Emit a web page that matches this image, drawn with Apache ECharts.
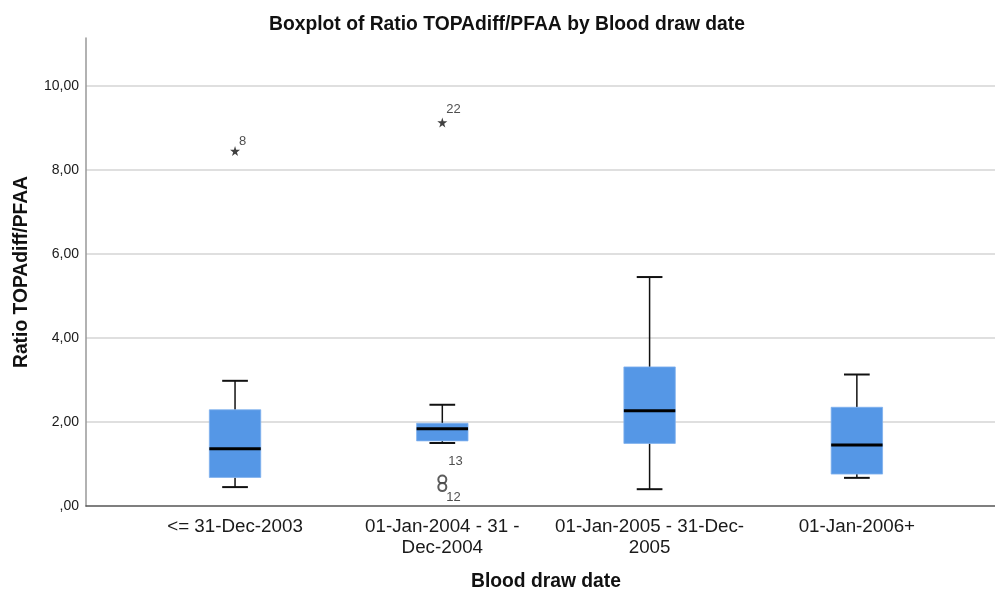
<!DOCTYPE html>
<html>
<head>
<meta charset="utf-8">
<script src="https://cdn.jsdelivr.net/npm/echarts@6/dist/echarts.min.js"></script>
<style>html,body{margin:0;padding:0;background:#fff;}#chart{width:995px;height:595px;}</style>
</head>
<body>
<div id="chart"></div>
<script>
const categories = ['<= 31-Dec-2003', '01-Jan-2004 - 31 -\nDec-2004', '01-Jan-2005 - 31-Dec-\n2005', '01-Jan-2006+'];
const lowerWhisker = [0.45, 1.50, 0.40, 0.67];
const q1 = [0.68, 1.55, 1.49, 0.76];
const median = [1.36, 1.84, 2.27, 1.45];
const q3 = [2.29, 1.97, 3.31, 2.35];
const upperWhisker = [2.98, 2.41, 5.45, 3.13];
const extremeCategory = [0, 1];
const extremeValues = [8.45, 9.13];
const extremeCaseIds = ['8', '22'];
const outlierCategory = [1, 1];
const outlierValues = [0.63, 0.45];
const outlierCaseIds = ['13', '12'];
const yTicks = [0, 2, 4, 6, 8, 10];

const FONT = '"Liberation Sans", Arial, sans-serif';
const Y_MAX = 11.14;
const boxData = categories.map((c, i) => [i, lowerWhisker[i], q1[i], median[i], q3[i], upperWhisker[i]]);

// label placement (style only)
const extremeLabelPos = [[9, -5], [9, -8]];
const outlierLabelPos = [[11, -13], [9, 15]];

const chart = echarts.init(document.getElementById('chart'), null, {renderer: 'canvas'});
chart.setOption({
  animation: false,
  backgroundColor: '#fff',
  title: {
    text: 'Boxplot of Ratio TOPAdiff/PFAA by Blood draw date',
    left: 502, top: 10, textAlign: 'center',
    textStyle: {fontFamily: FONT, fontSize: 19.3, fontWeight: 'bold', color: '#111'}
  },
  grid: [
    {left: 86, right: 0, top: 38, bottom: 89, containLabel: false, outerBoundsMode: 'none'},
    {left: 131.4, right: 34.5, top: 38, bottom: 89, containLabel: false, outerBoundsMode: 'none'}
  ],
  xAxis: [
    {type: 'value', gridIndex: 0, min: 0, max: 1,
      axisLine: {show: true, lineStyle: {color: '#555', width: 1.5}},
      axisTick: {show: false}, axisLabel: {show: false}, splitLine: {show: false}},
    {type: 'category', gridIndex: 1, data: categories,
      axisLine: {show: false}, axisTick: {show: false}, splitLine: {show: false},
      axisLabel: {interval: 0, margin: 10, fontFamily: FONT, fontSize: 18.8, lineHeight: 21, color: '#1a1a1a', align: 'center'},
      name: 'Blood draw date', nameLocation: 'middle', nameGap: 66,
      nameTextStyle: {fontFamily: FONT, fontSize: 19.3, fontWeight: 'bold', color: '#111'}}
  ],
  yAxis: [
    {type: 'value', gridIndex: 0, min: 0, max: Y_MAX, interval: 2,
      axisLine: {show: true, lineStyle: {color: '#999', width: 1.5}},
      axisTick: {show: false},
      axisLabel: {showMaxLabel: false, margin: 7, fontFamily: FONT, fontSize: 14, color: '#1a1a1a',
        formatter: v => yTicks.indexOf(v) < 0 ? '' : (v === 0 ? ',00' : v.toFixed(2).replace('.', ','))},
      splitLine: {show: true, showMinLine: false, showMaxLine: false, lineStyle: {color: '#d4d4d4', width: 1.5}},
      name: 'Ratio TOPAdiff/PFAA', nameLocation: 'middle', nameGap: 55,
      nameTextStyle: {fontFamily: FONT, fontSize: 19.3, fontWeight: 'bold', color: '#111'}},
    {type: 'value', gridIndex: 1, min: 0, max: Y_MAX, interval: 2, show: false, splitLine: {show: false}}
  ],
  series: [
    {
      type: 'custom', xAxisIndex: 1, yAxisIndex: 1, data: boxData,
      renderItem: function (params, api) {
        const x = api.value(0);
        const band = api.size([1, 0])[0];
        const bw = band * 0.248;
        const cw = bw * 0.5;
        const pLow = api.coord([x, api.value(1)]);
        const pQ1 = api.coord([x, api.value(2)]);
        const pMed = api.coord([x, api.value(3)]);
        const pQ3 = api.coord([x, api.value(4)]);
        const pHigh = api.coord([x, api.value(5)]);
        const cx = pMed[0];
        const ls = {stroke: '#111', lineWidth: 1.5};
        return {type: 'group', children: [
          {type: 'line', shape: {x1: cx, y1: pHigh[1], x2: cx, y2: pQ3[1]}, style: ls},
          {type: 'line', shape: {x1: cx, y1: pQ1[1], x2: cx, y2: pLow[1]}, style: ls},
          {type: 'line', shape: {x1: cx - cw / 2, y1: pHigh[1], x2: cx + cw / 2, y2: pHigh[1]}, style: {stroke: '#111', lineWidth: 2}},
          {type: 'line', shape: {x1: cx - cw / 2, y1: pLow[1], x2: cx + cw / 2, y2: pLow[1]}, style: {stroke: '#111', lineWidth: 2}},
          {type: 'rect', shape: {x: cx - bw / 2, y: pQ3[1], width: bw, height: pQ1[1] - pQ3[1]},
            style: {fill: '#5597e6', stroke: '#7fb0ee', lineWidth: 0.8}},
          {type: 'line', shape: {x1: cx - bw / 2, y1: pMed[1], x2: cx + bw / 2, y2: pMed[1]}, style: {stroke: '#000', lineWidth: 3}}
        ]};
      }
    },
    {
      type: 'scatter', xAxisIndex: 1, yAxisIndex: 1,
      symbol: 'path://M50,0 L61,35 L98,35 L68,57 L79,91 L50,70 L21,91 L32,57 L2,35 L39,35 Z',
      symbolSize: 10,
      itemStyle: {color: '#111'},
      data: extremeValues.map((v, i) => ({value: [extremeCategory[i], v], name: extremeCaseIds[i],
        label: {show: true, formatter: extremeCaseIds[i], position: extremeLabelPos[i], align: 'left', verticalAlign: 'middle',
          fontFamily: FONT, fontSize: 13, color: '#222'}}))
    },
    {
      type: 'scatter', xAxisIndex: 1, yAxisIndex: 1,
      symbol: 'emptyCircle', symbolSize: 8,
      itemStyle: {color: '#333', borderColor: '#333', borderWidth: 1.2},
      data: outlierValues.map((v, i) => ({value: [outlierCategory[i], v], name: outlierCaseIds[i],
        label: {show: true, formatter: outlierCaseIds[i], position: outlierLabelPos[i], align: 'left', verticalAlign: 'middle',
          fontFamily: FONT, fontSize: 13, color: '#222'}}))
    }
  ]
});
</script>
</body>
</html>
